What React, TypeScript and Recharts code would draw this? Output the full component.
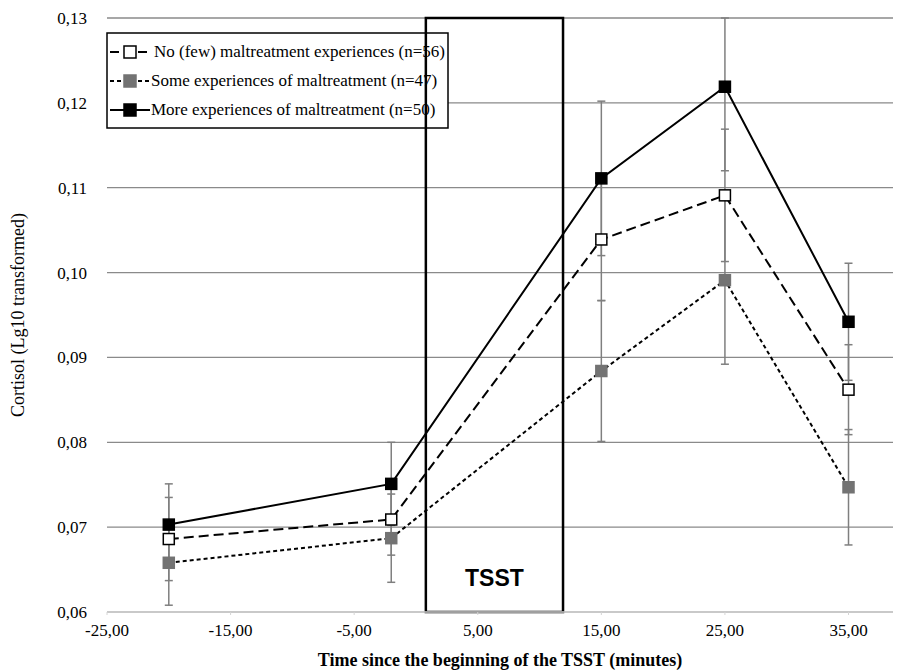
import React from 'react';
import {
    LineChart,
    Line,
    XAxis,
    YAxis,
    CartesianGrid,
    ErrorBar,
    ReferenceArea,
    Label,
    Customized,
} from 'recharts';

// minutes relative to TSST start
const times = [-20, -2, 15, 25, 35];

// Cortisol (lg10) means and error bars
const noFewMeans = [0.0686, 0.0709, 0.1039, 0.1091, 0.0862];
const noFewErrs = [0.0049, 0.0042, 0.0072, 0.0078, 0.0053];
const someMeans = [0.0658, 0.0687, 0.0884, 0.0991, 0.0747];
const someErrs = [0.005, 0.0052, 0.0083, 0.0099, 0.0068];
const moreMeans = [0.0703, 0.0751, 0.1111, 0.1219, 0.0942];
const moreErrs = [0.0048, 0.0049, 0.0091, 0.0099, 0.0069];

const xTicks = [-25, -15, -5, 5, 15, 25, 35];
const yTicks = [0.06, 0.07, 0.08, 0.09, 0.1, 0.11, 0.12, 0.13];
const Y_MIN = 0.06;
const Y_MAX = 0.13;

const seriesNames = [
    'No (few) maltreatment experiences (n=56)',
    'Some experiences of maltreatment (n=47)',
    'More experiences of maltreatment (n=50)',
];

// error bars are clipped at the plot edges like in the original figure
const clipErr = (mean: number, err: number) => [
    Math.min(err, mean - Y_MIN),
    Math.min(err, Y_MAX - mean),
];

const data = times.map((t, i) => ({
    t,
    noFew: noFewMeans[i],
    noFewErr: clipErr(noFewMeans[i], noFewErrs[i]),
    some: someMeans[i],
    someErr: clipErr(someMeans[i], someErrs[i]),
    more: moreMeans[i],
    moreErr: clipErr(moreMeans[i], moreErrs[i]),
}));

const GRAY = '#737373';
const FONT = "'Liberation Serif', 'Times New Roman', serif";
const serif = { fontFamily: FONT };

const fmt = (v: number) => v.toFixed(2).replace('.', ',');

const squareDot = (fill: string) => (props: any) => {
    const { cx, cy, index } = props;
    if (cx == null || cy == null) return null;
    return (
        <rect
            key={`d-${index}`}
            x={cx - 5.5}
            y={cy - 5.5}
            width={11}
            height={11}
            fill={fill}
            stroke={fill === '#ffffff' ? '#000' : fill}
            strokeWidth={1.5}
        />
    );
};

// legend drawn inside the svg so the TSST box can cross it
const LegendBox = () => {
    const rows = [
        { fill: '#ffffff', dash: '9 5', name: seriesNames[0] },
        { fill: GRAY, dash: '4 3', name: seriesNames[1] },
        { fill: '#000000', dash: undefined, name: seriesNames[2] },
    ];
    return (
        <g>
            <rect x={107} y={33} width={341} height={95} fill="#fff" stroke="#000" strokeWidth={1.5} />
            {rows.map((r, i) => {
                const y = 52 + i * 29;
                return (
                    <g key={i}>
                        <line x1={110} y1={y} x2={150} y2={y} stroke="#000" strokeWidth={2} strokeDasharray={r.dash} />
                        <rect
                            x={124}
                            y={y - 6}
                            width={12}
                            height={12}
                            fill={r.fill}
                            stroke={r.fill === '#ffffff' ? '#000' : r.fill}
                            strokeWidth={1.5}
                        />
                        <text x={i === 0 ? 154 : 151} y={y + 5} style={{ ...serif, fontSize: 17 }} fill="#000">
                            {r.name}
                        </text>
                    </g>
                );
            })}
        </g>
    );
};

export default function App() {
    return (
        <div style={{ position: 'absolute', left: 0, top: 0, width: 897, height: 672, background: '#fff', ...serif }}>
            <LineChart
                width={897}
                height={672}
                data={data}
                margin={{ top: 18, right: 4, bottom: 0, left: 0 }}
                style={serif}
            >
                <CartesianGrid vertical={false} stroke="#8a8a8a" strokeWidth={1.3} />
                <XAxis
                    type="number"
                    dataKey="t"
                    domain={[-25, 38.6]}
                    ticks={xTicks}
                    tickFormatter={fmt}
                    height={60}
                    axisLine={{ stroke: '#d4d4d4', strokeWidth: 1.5 }}
                    tickLine={{ stroke: '#d4d4d4' }}
                    tickSize={3}
                    tickMargin={9}
                    tick={{ fill: '#000', fontSize: 17, style: serif }}
                >
                    <Label
                        value="Time since the beginning of the TSST (minutes)"
                        position="insideBottom"
                        offset={6}
                        style={{ fill: '#000', fontSize: 18, fontFamily: FONT, fontWeight: 'bold' }}
                    />
                </XAxis>
                <YAxis
                    type="number"
                    domain={[Y_MIN, Y_MAX]}
                    ticks={yTicks}
                    tickFormatter={fmt}
                    allowDataOverflow
                    width={107}
                    axisLine={false}
                    tickLine={false}
                    tickMargin={14}
                    tick={{ fill: '#000', fontSize: 17, style: serif }}
                >
                    <Label
                        value="Cortisol (Lg10 transformed)"
                        angle={-90}
                        position="insideLeft"
                        offset={18}
                        style={{ textAnchor: 'middle', fill: '#000', fontSize: 18, fontFamily: FONT }}
                    />
                </YAxis>
                <Line
                    dataKey="some"
                    stroke="#000"
                    strokeWidth={2}
                    strokeDasharray="4 3"
                    dot={squareDot(GRAY)}
                    activeDot={false}
                    isAnimationActive={false}
                >
                    <ErrorBar dataKey="someErr" direction="y" width={4} stroke="#7f7f7f" strokeWidth={1.5} />
                </Line>
                <Line
                    dataKey="noFew"
                    stroke="#000"
                    strokeWidth={2}
                    strokeDasharray="10 5"
                    dot={squareDot('#ffffff')}
                    activeDot={false}
                    isAnimationActive={false}
                >
                    <ErrorBar dataKey="noFewErr" direction="y" width={4} stroke="#7f7f7f" strokeWidth={1.5} />
                </Line>
                <Line
                    dataKey="more"
                    stroke="#000"
                    strokeWidth={2}
                    dot={squareDot('#000000')}
                    activeDot={false}
                    isAnimationActive={false}
                >
                    <ErrorBar dataKey="moreErr" direction="y" width={4} stroke="#7f7f7f" strokeWidth={1.5} />
                </Line>
                <Customized component={<LegendBox />} />
                <ReferenceArea
                    x1={0.8}
                    x2={11.9}
                    y1={Y_MIN}
                    y2={Y_MAX}
                    fill="none"
                    fillOpacity={0}
                    stroke="#000"
                    strokeWidth={2.5}
                    ifOverflow="visible"
                >
                    <Label
                        value="TSST"
                        position="insideBottom"
                        offset={26}
                        style={{ fill: '#000', fontSize: 23, fontFamily: "'Liberation Sans', Arial, sans-serif", fontWeight: 'bold' }}
                    />
                </ReferenceArea>
            </LineChart>
        </div>
    );
}
